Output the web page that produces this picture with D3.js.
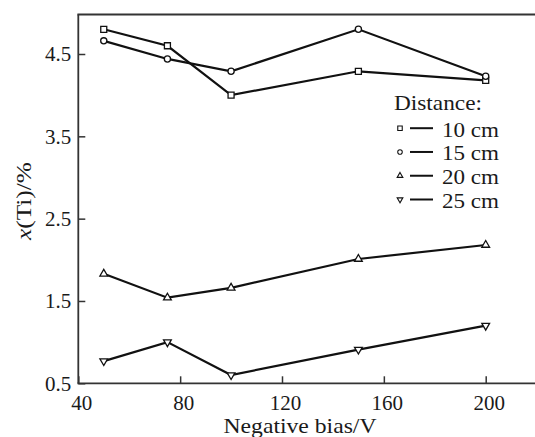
<!DOCTYPE html>
<html>
<head>
<meta charset="utf-8">
<script src="https://cdn.jsdelivr.net/npm/d3@7"></script>
<style>
  body { margin: 0; background: #fff; }
  svg { display: block; }
</style>
</head>
<body>
<svg id="chart" width="535" height="437"></svg>
<script>
// Ti content vs. negative bias for four target distances
const bias = [50, 75, 100, 150, 200];
const ti10 = [4.80, 4.60, 4.00, 4.29, 4.18];
const ti15 = [4.66, 4.44, 4.29, 4.80, 4.23];
const ti20 = [1.83, 1.54, 1.66, 2.01, 2.18];
const ti25 = [0.77, 1.00, 0.60, 0.91, 1.20];
const seriesNames = ["10 cm", "15 cm", "20 cm", "25 cm"];
const xTicks = [40, 80, 120, 160, 200];
const yTicks = [0.5, 1.5, 2.5, 3.5, 4.5];

const W = 535, H = 437;
const FONT = '"Liberation Serif"';
const INK = "#1a1a1a";
const svg = d3.select("#chart");

const x = d3.scaleLinear().domain([40, 200]).range([78.3, 485.7]);
const y = d3.scaleLinear().domain([0.5, 4.5]).range([383.3, 54]);
const yTop = 4.98;

const symbols = [
  d3.symbol().type(d3.symbolSquare),
  d3.symbol().type(d3.symbolCircle),
  d3.symbol().type(d3.symbolTriangle),
  d3.symbol().type(d3.symbolTriangle)
];
const rotations = [0, 0, 0, 180];
const markerSizes = [36, 30, 26, 26];
const legendSizes = [20, 16, 14, 14];

const series = [ti10, ti15, ti20, ti25].map((vals, i) => ({
  name: seriesNames[i],
  points: bias.map((b, j) => ({ b, v: vals[j] }))
}));

function label(sel, size) {
  return sel.style("font-family", FONT).style("font-size", size + "px").attr("fill", INK);
}

// Frame: left axis, bottom axis and top rule
const frame = svg.append("g").attr("stroke", "#333").attr("stroke-width", 1.8).attr("fill", "none");
frame.append("line").attr("x1", x(40)).attr("x2", x(40)).attr("y1", y(0.5)).attr("y2", y(yTop));
frame.append("line").attr("x1", x(40) - 0.9).attr("x2", W).attr("y1", y(0.5)).attr("y2", y(0.5));
frame.append("line").attr("x1", x(40) - 0.9).attr("x2", W).attr("y1", y(yTop)).attr("y2", y(yTop));

// Axes with inward ticks
const xAxis = svg.append("g")
  .attr("transform", `translate(0,${y(0.5)})`)
  .call(d3.axisBottom(x).tickValues(xTicks).tickFormat(d3.format("d"))
    .tickSizeInner(-7).tickSizeOuter(0).tickPadding(12));
const yAxis = svg.append("g")
  .attr("transform", `translate(${x(40)},0)`)
  .call(d3.axisLeft(y).tickValues(yTicks).tickFormat(d3.format(".1f"))
    .tickSizeInner(-7).tickSizeOuter(0).tickPadding(7));

[xAxis, yAxis].forEach(g => {
  g.attr("font-family", null).attr("font-size", null);
  g.select(".domain").remove();
  g.selectAll(".tick line").attr("stroke", "#333").attr("stroke-width", 1.5);
  label(g.selectAll(".tick text"), 21);
});
xAxis.selectAll(".tick text").attr("dx", 3);

// Axis titles
label(svg.append("text"), 22)
  .attr("x", 300).attr("y", 433)
  .attr("text-anchor", "middle")
  .attr("textLength", 153).attr("lengthAdjust", "spacingAndGlyphs")
  .text("Negative bias/V");

const yTitle = label(svg.append("text"), 22)
  .attr("transform", "translate(31,201) rotate(-90)")
  .attr("text-anchor", "middle")
  .attr("textLength", 78).attr("lengthAdjust", "spacingAndGlyphs");
yTitle.append("tspan").style("font-style", "italic").text("x");
yTitle.append("tspan").text("(Ti)/%");

// Series lines and markers
const line = d3.line().x(d => x(d.b)).y(d => y(d.v));
const plot = svg.append("g");
series.forEach(s => {
  plot.append("path")
    .datum(s.points)
    .attr("d", line)
    .attr("fill", "none")
    .attr("stroke", "#111")
    .attr("stroke-width", 2.2);
});
series.forEach((s, i) => {
  plot.selectAll(null)
    .data(s.points)
    .join("path")
    .attr("transform", d => `translate(${x(d.b)},${y(d.v)}) rotate(${rotations[i]})`)
    .attr("d", symbols[i].size(markerSizes[i])())
    .attr("fill", "#fff")
    .attr("stroke", "#111")
    .attr("stroke-width", 1.3);
});

// Legend
const legend = svg.append("g");
label(legend.append("text"), 22)
  .attr("x", 394).attr("y", 110)
  .attr("textLength", 88).attr("lengthAdjust", "spacingAndGlyphs")
  .text("Distance:");
const rowY = d3.scaleLinear().domain([0, 3]).range([136.7, 208]);
series.forEach((s, i) => {
  const by = rowY(i);
  legend.append("path")
    .attr("transform", `translate(400,${by - 8.5}) rotate(${rotations[i]})`)
    .attr("d", symbols[i].size(legendSizes[i])())
    .attr("fill", "#fff")
    .attr("stroke", "#111")
    .attr("stroke-width", 1.1);
  legend.append("line")
    .attr("x1", 410).attr("x2", 433)
    .attr("y1", by - 8.5).attr("y2", by - 8.5)
    .attr("stroke", "#111").attr("stroke-width", 2);
  label(legend.append("text"), 22)
    .attr("x", 442).attr("y", by)
    .attr("textLength", 57).attr("lengthAdjust", "spacingAndGlyphs")
    .text(s.name);
});
</script>
</body>
</html>
